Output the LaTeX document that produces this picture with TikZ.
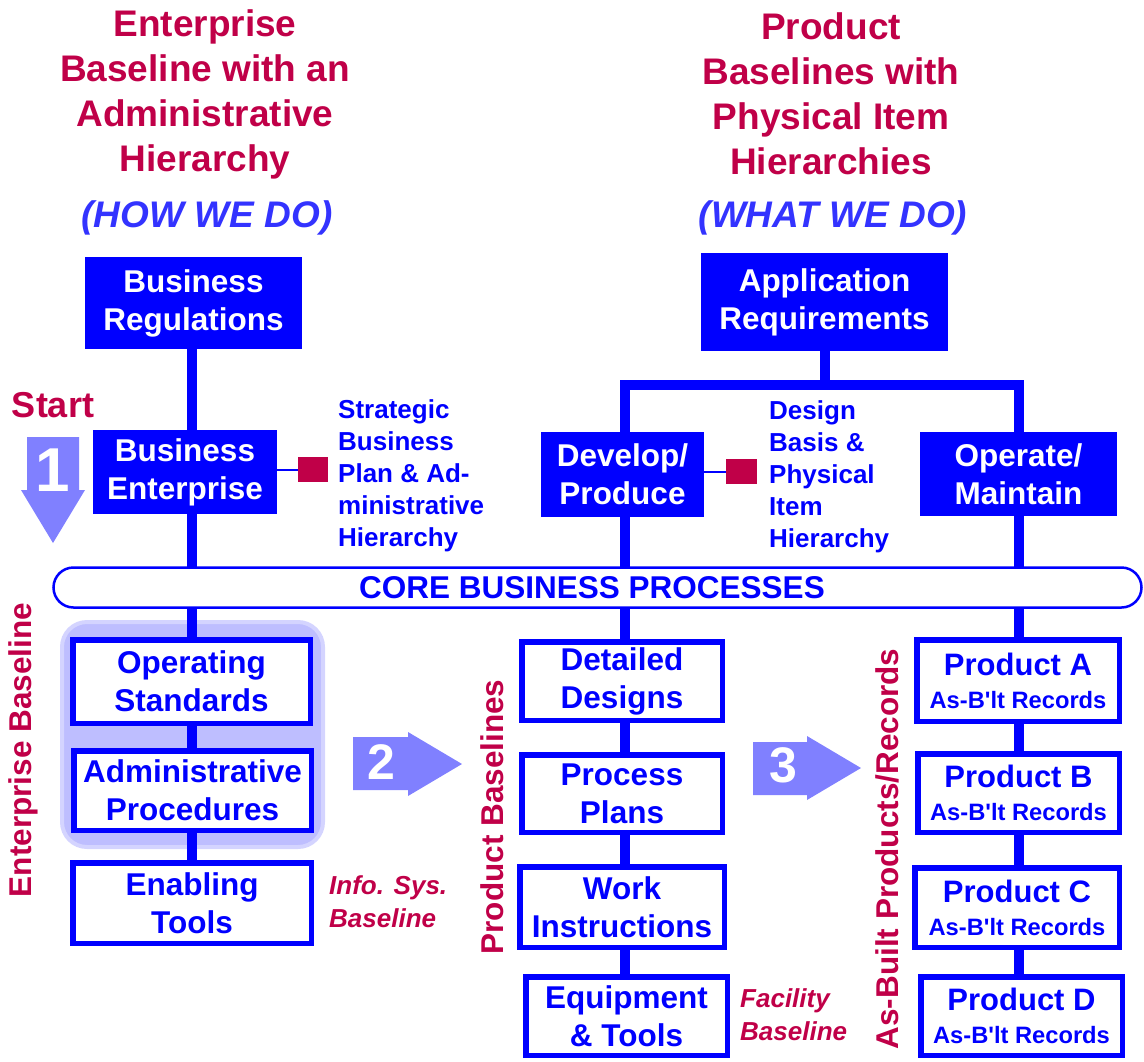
\documentclass[tikz,border=0pt]{standalone}
\usepackage{fontspec}
\setmainfont{Liberation Sans}[Ligatures=TeXOff]
\usetikzlibrary{backgrounds}
\definecolor{crim}{RGB}{192,0,72}
\definecolor{hblue}{RGB}{51,51,255}
\definecolor{lblue}{RGB}{128,128,255}
\definecolor{grpfill}{RGB}{190,190,255}
\definecolor{grpedge}{RGB}{212,212,255}
\newcommand\bxfont{\fontsize{31.5}{38}\selectfont\bfseries}
\newcommand\hdfont{\fontsize{37}{45}\selectfont\bfseries}
\newcommand\lbfont{\fontsize{26}{32}\selectfont\bfseries}
\newcommand\itfont{\fontsize{26}{33}\selectfont\bfseries\itshape}
\newcommand\prodtxt[1]{\fontsize{31}{34}\selectfont\bfseries Product #1\\[-5pt]{\fontsize{23.7}{28}\selectfont\bfseries As-B'lt Records}}
\tikzset{
  fbox/.style={draw=blue, line width=1pt, fill=blue, text=white, font=\bxfont, align=center, inner sep=0pt},
  wbox/.style={draw=blue, line width=5.5pt, fill=white, text=blue, font=\bxfont, align=center, inner sep=0pt},
  spine/.style={draw=blue, line width=10pt, line join=miter},
  thinln/.style={draw=blue, line width=2pt},
  redsq/.style={fill=crim, minimum width=30pt, minimum height=25pt, inner sep=0pt},
  heading/.style={text=crim, font=\hdfont, align=center, inner sep=0pt},
  howlbl/.style={text=hblue, font=\fontsize{37}{45}\selectfont\bfseries\itshape, inner sep=0pt},
  desc/.style={text=blue, font=\lbfont, align=left, inner sep=0pt, anchor=west},
  itlbl/.style={text=crim, font=\itfont, align=left, inner sep=0pt, anchor=west},
  sidelbl/.style={text=crim, font=\fontsize{31.5}{38}\selectfont\bfseries, rotate=90, inner sep=0pt},
  bigarrow/.style={fill=lblue, draw=none},
  numlbl/.style={text=white, font=\bfseries, inner sep=0pt}
}
\begin{document}
\begin{tikzpicture}[x=1pt,y=-1pt]
\useasboundingbox (0,0) rectangle (1144,1061);

% headings
\node[heading] (hleft) at (205,94.5) {Enterprise\\Baseline with an\\Administrative\\Hierarchy};
\node[heading] (hright) at (831,93.5) {Product\\Baselines with\\Physical Item\\Hierarchies};
\node[howlbl] (how) at (207,218) {(HOW WE DO)};
\node[howlbl] (what) at (833,218) {(WHAT WE DO)};

% top filled boxes
\node[fbox, minimum width=216pt, minimum height=91pt] (breg) at (193.5,303) {Business\\Regulations};
\node[fbox, minimum width=183pt, minimum height=83pt] (bent) at (185,472) {Business\\Enterprise};
\node[fbox, minimum width=246pt, minimum height=97pt] (appreq) at (824.5,302) {Application\\Requirements};
\node[fbox, minimum width=162pt, minimum height=84pt] (dev) at (622.5,474.5) {Develop/\\Produce};
\node[fbox, minimum width=196pt, minimum height=83pt] (opm) at (1018.5,474) {Operate/\\Maintain};

% red squares and descriptions
\node[redsq] (sqA) at (313,469.5) {};
\node[redsq, minimum width=31pt] (sqB) at (741.5,471.5) {};
\node[desc] (strat) at (338,476) {Strategic\\Business\\Plan \& Ad-\\ministrative\\Hierarchy};
\node[desc] (design) at (769,477) {Design\\Basis \&\\Physical\\Item\\Hierarchy};

% start + arrow 1
\node[text=crim, font=\fontsize{36}{42}\selectfont\bfseries, inner sep=0pt] (start) at (53,405) {Start};
\path[bigarrow] (27,437) -- (79,437) -- (79,490) -- (85,490) -- (53,543) -- (21,490) -- (27,490) -- cycle;
\node[numlbl, font=\fontsize{62}{62}\selectfont\bfseries] (n1) at (53,470) {1};

% core business processes
\node[draw=blue, line width=2.5pt, fill=white, rounded corners=20pt, minimum width=1088pt, minimum height=40pt, inner sep=0pt, text=blue, font=\bxfont] (core) at (597.5,587.5) {\hspace*{-11pt}CORE BUSINESS PROCESSES};

% enterprise group background
\begin{scope}[on background layer]
\fill[grpfill, draw=grpedge, line width=4pt, rounded corners=25pt] (62,622) rectangle (323,847);
\end{scope}

% lower left column
\node[wbox, minimum width=237.5pt, minimum height=83.5pt] (opstd) at (191.5,681.5) {Operating\\Standards};
\node[wbox, minimum width=237.5pt, minimum height=79.5pt] (admproc) at (192.5,790.5) {Administrative\\Procedures};
\node[wbox, minimum width=238.5pt, minimum height=80.5pt] (enab) at (192,903) {Enabling\\Tools};
\node[itlbl] (infosys) at (329,901.5) {Info. Sys.\\Baseline};

% middle column
\node[wbox, minimum width=200.5pt, minimum height=78.5pt] (detdes) at (622,681) {Detailed\\Designs};
\node[wbox, minimum width=200.5pt, minimum height=77.5pt] (procpl) at (622,793.5) {Process\\Plans};
\node[wbox, minimum width=204.5pt, minimum height=80.5pt] (workin) at (622,907) {Work\\Instructions};
\node[wbox, minimum width=201.5pt, minimum height=78.5pt] (equip) at (626.5,1016) {Equipment\\\& Tools};
\node[itlbl] (facil) at (740,1014.5) {Facility\\Baseline};

% right column
\node[wbox, minimum width=202.5pt, minimum height=81.5pt] (prodA) at (1018,680.5) {\prodtxt{A}};
\node[wbox, minimum width=201.5pt, minimum height=78.5pt] (prodB) at (1018.5,793) {\prodtxt{B}};
\node[wbox, minimum width=204.5pt, minimum height=79.5pt] (prodC) at (1017,907.5) {\prodtxt{C}};
\node[wbox, minimum width=201.5pt, minimum height=78.5pt] (prodD) at (1021.5,1016) {\prodtxt{D}};

% side labels
\node[sidelbl] (entbl) at (23,750) {Enterprise Baseline};
\node[sidelbl] (prodbl) at (492,817) {Product Baselines};
\node[sidelbl] (asbuilt) at (887,849) {As-Built Products/Records};

% arrows 2 and 3
\path[bigarrow] (353,737) -- (408,737) -- (408,732) -- (462,764) -- (408,796) -- (408,790) -- (353,790) -- cycle;
\node[numlbl, font=\fontsize{50}{50}\selectfont\bfseries] (n2) at (381,762) {2};
\path[bigarrow] (753,742) -- (807,742) -- (807,736) -- (861,768) -- (807,800) -- (807,795) -- (753,795) -- cycle;
\node[numlbl, font=\fontsize{50}{50}\selectfont\bfseries] (n3) at (783,765) {3};

% connectors
\coordinate (lsp) at (192,0);
\coordinate (msp) at (625,0);
\coordinate (rsp) at (1019,0);
\coordinate (barL) at (625,385);
\coordinate (barR) at (1019,385);
\begin{scope}[on background layer]
\draw[spine] (breg.center -| lsp) -- (enab.center -| lsp);
\draw[spine] (appreq.center) -- (appreq.center |- barL);
\draw[spine] (dev.center -| barL) -- (barL) -- (barR) -- (opm.center -| barR);
\draw[spine] (dev.center -| msp) -- (equip.center -| msp);
\draw[spine] (opm.center -| rsp) -- (prodD.center -| rsp);
\draw[thinln] (bent.east |- sqA) -- (sqA.west);
\draw[thinln] (dev.east |- sqB) -- (sqB.west);
\end{scope}
\end{tikzpicture}
\end{document}
